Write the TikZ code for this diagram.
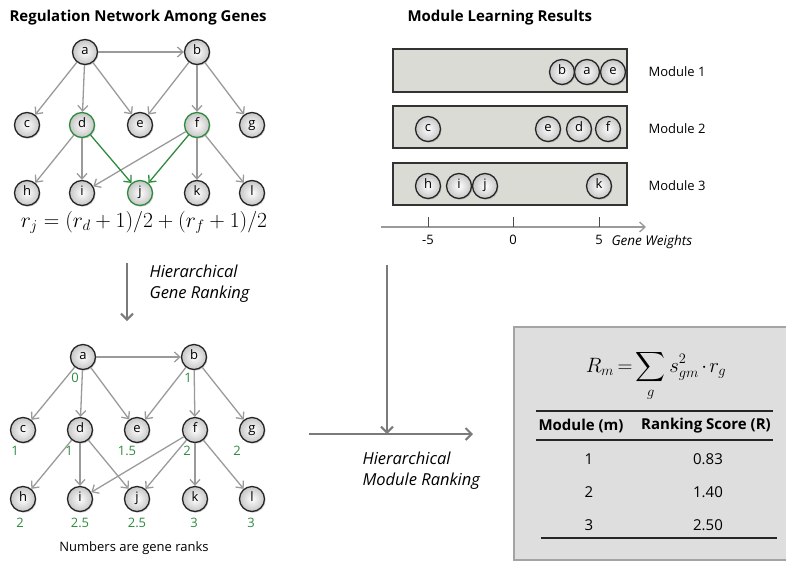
\documentclass[tikz,border=0pt]{standalone}
\usepackage{exscale}
\usepackage{fontspec}
\setmainfont{Open Sans}
\usetikzlibrary{arrows.meta,shadows}
\definecolor{edgegray}{HTML}{9A9A9A}
\definecolor{biggray}{HTML}{7A7A7A}
\definecolor{mygreen}{HTML}{2E8B3E}
\definecolor{modfill}{HTML}{D9DBD4}
\definecolor{boxfill}{HTML}{DEDEDE}
\definecolor{boxline}{HTML}{A4A4A4}
\begin{document}
\begin{tikzpicture}[x=1pt,y=-1pt,
  gene/.style={circle, draw=black!85, line width=1.3pt, minimum size=25pt, inner sep=0pt,
    inner color=white, outer color=gray!45, text height=0.55em, text depth=0.05em,
    font=\fontsize{13}{13}\selectfont,
    drop shadow={opacity=0.35, shadow xshift=1pt, shadow yshift=-1.2pt}},
  ggene/.style={gene, draw=mygreen},
  edge/.style={draw=edgegray, line width=1.3pt, -{Straight Barb[length=5.5pt,width=10pt,line width=1.3pt]}},
  gedge/.style={edge, draw=mygreen},
  bigarrow/.style={draw=biggray, line width=2.2pt, -{Straight Barb[length=6pt,width=12pt,line width=2pt]}},
  title/.style={font=\fontsize{15}{18}\selectfont\bfseries},
  rank/.style={text=mygreen, font=\fontsize{13}{14}\selectfont},
  lbl/.style={font=\fontsize{13}{15}\selectfont},
  itl/.style={font=\fontsize{16.5}{21}\selectfont\itshape, align=left},
  modbox/.style={draw=black!80, line width=1.5pt, fill=modfill,
    drop shadow={opacity=0.3, shadow xshift=1pt, shadow yshift=-1.2pt}},
  tabtext/.style={font=\fontsize{15}{18}\selectfont},
  tabhead/.style={font=\fontsize{15}{18}\selectfont\bfseries}
]
\useasboundingbox (0,0) rectangle (786,560);

% ---------- Titles ----------
\node[title, anchor=west] (t1) at (6,18) {Regulation Network Among Genes};
\node[title, anchor=west] (t2) at (404,18) {Module Learning Results};

% ---------- Top network ----------
\node[gene] (ta) at (85,52) {a};
\node[gene] (tb) at (197,52) {b};
\node[gene] (tc) at (27,125) {c};
\node[ggene] (td) at (82,125) {d};
\node[gene] (te) at (140,125) {e};
\node[ggene] (tf) at (197,125) {f};
\node[gene] (tg) at (252,125) {g};
\node[gene] (th) at (27,193) {h};
\node[gene] (ti) at (82,193) {i};
\node[ggene] (tj) at (140,193) {j};
\node[gene] (tk) at (197,193) {k};
\node[gene] (tl) at (252,193) {l};
\draw[edge] (ta) -- (tb);
\draw[edge] (ta) -- (tc);
\draw[edge] (ta) -- (td);
\draw[edge] (ta) -- (te);
\draw[edge] (tb) -- (te);
\draw[edge] (tb) -- (tf);
\draw[edge] (tb) -- (tg);
\draw[edge] (td) -- (th);
\draw[edge] (td) -- (ti);
\draw[edge] (tf) -- (ti);
\draw[edge] (tf) -- (tk);
\draw[edge] (tf) -- (tl);
\draw[gedge] (td) -- (tj);
\draw[gedge] (tf) -- (tj);
\node[scale=1.04] (eqr) at (144,222) {\fontsize{20.74}{25}\selectfont $r_j = (r_d + 1)/2 + (r_f + 1)/2$};

% ---------- Hierarchical gene ranking arrow ----------
\coordinate (ga1) at (127,263);
\coordinate (ga2) at (127,321);
\draw[bigarrow] (ga1) -- (ga2);
\node[itl, anchor=north west] (hgr) at (146,261) {Hierarchical\\Gene Ranking};

% ---------- Bottom network ----------
\node[gene] (ba) at (83,357) {a};
\node[gene] (bb) at (194,357) {b};
\node[gene] (bc) at (23,430) {c};
\node[gene] (bd) at (80,430) {d};
\node[gene] (be) at (137,430) {e};
\node[gene] (bf) at (195,430) {f};
\node[gene] (bg) at (252,430) {g};
\node[gene] (bh) at (23,499) {h};
\node[gene] (bi) at (80,499) {i};
\node[gene] (bj) at (137,499) {j};
\node[gene] (bk) at (195,499) {k};
\node[gene] (bl) at (252,499) {l};
\draw[edge] (ba) -- (bb);
\draw[edge] (ba) -- (bc);
\draw[edge] (ba) -- (bd);
\draw[edge] (ba) -- (be);
\draw[edge] (bb) -- (be);
\draw[edge] (bb) -- (bf);
\draw[edge] (bb) -- (bg);
\draw[edge] (bd) -- (bh);
\draw[edge] (bd) -- (bi);
\draw[edge] (bd) -- (bj);
\draw[edge] (bf) -- (bi);
\draw[edge] (bf) -- (bj);
\draw[edge] (bf) -- (bk);
\draw[edge] (bf) -- (bl);
\node[rank] (ra) at (75,378) {0};
\node[rank] (rb) at (188,378) {1};
\node[rank] (rc) at (15,451) {1};
\node[rank] (rd) at (69,451) {1};
\node[rank] (re) at (127,451) {1.5};
\node[rank] (rf) at (187,451) {2};
\node[rank] (rg) at (237,451) {2};
\node[rank] (rh) at (20,523) {2};
\node[rank] (ri) at (80,523) {2.5};
\node[rank] (rj) at (137,523) {2.5};
\node[rank] (rk) at (194,523) {3};
\node[rank] (rl) at (251,523) {3};
\node[font=\fontsize{13}{15}\selectfont] (note) at (134,548) {Numbers are gene ranks};

% ---------- Module boxes ----------
\path[modbox] (393,49) rectangle (627,92);
\path[modbox] (393,106) rectangle (627,148);
\path[modbox] (393,163) rectangle (627,205);
\node[lbl, anchor=west] (ml1) at (645,72) {Module 1};
\node[lbl, anchor=west] (ml2) at (645,129) {Module 2};
\node[lbl, anchor=west] (ml3) at (645,186) {Module 3};
\node[gene] (m1b) at (562,72) {b};
\node[gene] (m1a) at (587,72) {a};
\node[gene] (m1e) at (613,72) {e};
\node[gene] (m2c) at (428,129) {c};
\node[gene] (m2e) at (548,129) {e};
\node[gene] (m2d) at (579,129) {d};
\node[gene] (m2f) at (608,129) {f};
\node[gene] (m3h) at (428,186) {h};
\node[gene] (m3i) at (459,186) {i};
\node[gene] (m3j) at (485,186) {j};
\node[gene] (m3k) at (599,186) {k};

% ---------- Axis ----------
\coordinate (ax1) at (381,227);
\coordinate (ax2) at (646,227);
\draw[draw=edgegray, line width=1.3pt, -{Straight Barb[length=5.5pt,width=10pt,line width=1.3pt]}] (ax1) -- (ax2);
\foreach \xx/\tl in {428/-5, 513/0, 599/5} {
  \draw[draw=black!70, line width=1pt] (\xx,217) -- (\xx,227);
  \node[font=\fontsize{13}{14}\selectfont] at (\xx,240) {\tl};
}
\node[font=\fontsize{13.5}{15}\selectfont\itshape, anchor=west] (gw) at (608,242) {Gene Weights};

% ---------- Hierarchical module ranking arrows ----------
\coordinate (va1) at (387,265);
\coordinate (va2) at (387,434);
\coordinate (ha1) at (309,434);
\coordinate (ha2) at (473,434);
\draw[bigarrow] (va1) -- (va2);
\draw[bigarrow] (ha1) -- (ha2);
\node[itl, anchor=north west] (hmr) at (359,448) {Hierarchical\\Module Ranking};

% ---------- Ranking box ----------
\path[draw=boxline, line width=2pt, fill=boxfill,
  drop shadow={opacity=0.3, shadow xshift=1.5pt, shadow yshift=-1.5pt}] (514,327) rectangle (792,560);
\node (eqR) at (656,376) {\fontsize{20.74}{25}\selectfont \thickmuskip=3mu \medmuskip=2mu
  $\displaystyle R_m = \sum_g s_{gm}^2 \cdot r_g$};
\draw[black!85, line width=1.2pt] (536,411) -- (773,411);
\node[tabhead] (h1) at (581,426) {Module (m)};
\node[tabhead] (h2) at (706,426) {Ranking Score (R)};
\draw[black!85, line width=1.2pt] (536,440) -- (773,440);
\node[tabtext] (c11) at (589,459) {1};
\node[tabtext] (c12) at (708,459) {0.83};
\node[tabtext] (c21) at (589,492) {2};
\node[tabtext] (c22) at (708,492) {1.40};
\node[tabtext] (c31) at (589,525) {3};
\node[tabtext] (c32) at (708,525) {2.50};
\draw[black!85, line width=1.2pt] (541,538) -- (777,538);
\end{tikzpicture}
\end{document}
